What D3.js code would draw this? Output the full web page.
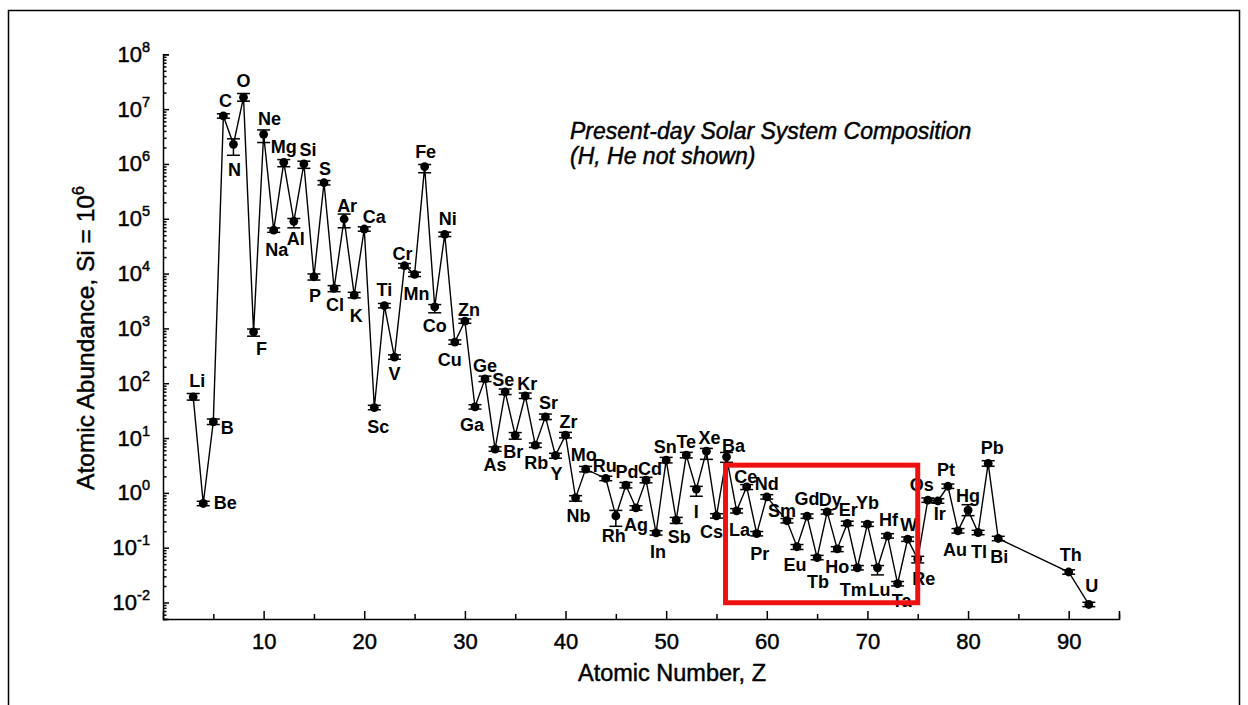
<!DOCTYPE html>
<html>
<head>
<meta charset="utf-8">
<script src="https://cdn.jsdelivr.net/npm/d3@7"></script>
<style>
  html, body { margin: 0; padding: 0; background: #fff; }
  svg { display: block; font-family: "Liberation Sans", Arial, sans-serif; }
  .heavy { stroke: #000; stroke-width: 0.45px; paint-order: stroke; }
</style>
</head>
<body>
<svg id="chart" width="1248" height="705"></svg>
<script>
// Present-day solar system abundances (atoms per 10^6 Si atoms)
const elements = ["Li","Be","B","C","N","O","F","Ne","Na","Mg","Al","Si","P","S","Cl","Ar","K","Ca","Sc","Ti",
  "V","Cr","Mn","Fe","Co","Ni","Cu","Zn","Ga","Ge","As","Se","Br","Kr","Rb","Sr","Y","Zr","Nb","Mo",
  "Ru","Rh","Pd","Ag","Cd","In","Sn","Sb","Te","I","Xe","Cs","Ba","La","Ce","Pr","Nd",
  "Sm","Eu","Gd","Tb","Dy","Ho","Er","Tm","Yb","Lu","Hf","Ta","W","Re","Os","Ir","Pt","Au","Hg","Tl",
  "Pb","Bi","Th","U"];
const atomicNumbers = [3,4,5,6,7,8,9,10,11,12,13,14,15,16,17,18,19,20,21,22,
  23,24,25,26,27,28,29,30,31,32,33,34,35,36,37,38,39,40,41,42,
  44,45,46,47,48,49,50,51,52,53,54,55,56,57,58,59,60,
  62,63,64,65,66,67,68,69,70,71,72,73,74,75,76,77,78,79,80,81,
  82,83,90,92];
const abundances = [56.5,0.64,19.8,7.5e6,2.28e6,1.64e7,867,3.47e6,6.2e4,1.07e6,9.0e4,1.0e6,8750,4.54e5,5370,9.9e4,4050,6.5e4,36,2600,
  300,1.39e4,9670,8.9e5,2480,5.19e4,562,1358,37,120,6.3,69.7,11.2,59,7.4,24.4,4.8,11.3,0.81,2.71,
  1.83,0.38,1.38,0.53,1.71,0.186,3.95,0.318,4.88,1.17,5.77,0.38,4.54,0.47,1.29,0.18,0.845,
  0.31,0.104,0.376,0.066,0.45,0.095,0.277,0.043,0.268,0.043,0.164,0.022,0.143,0.062,0.736,0.71,1.32,0.203,0.483,0.189,
  3.44,0.147,0.036,0.0092];
// Uncertainties in dex (log10 units), above and below each value
const errorUp = [0.06,0.04,0.05,0.04,0.10,0.07,0.05,0.08,0.04,0.05,0.05,0.05,0.05,0.04,0.05,0.09,0.05,0.04,0.04,0.04,
  0.04,0.04,0.04,0.04,0.04,0.04,0.04,0.04,0.04,0.05,0.04,0.05,0.05,0.05,0.04,0.05,0.04,0.05,0.04,0.05,
  0.04,0.10,0.05,0.04,0.05,0.04,0.05,0.05,0.05,0.05,0.05,0.04,0.08,0.04,0.04,0.04,0.04,
  0.04,0.04,0.04,0.04,0.04,0.04,0.04,0.04,0.04,0.04,0.04,0.04,0.04,0.05,0.04,0.04,0.04,0.04,0.10,0.04,
  0.05,0.04,0.04,0.04];
const errorDown = [0.06,0.04,0.05,0.04,0.20,0.07,0.08,0.15,0.04,0.08,0.12,0.08,0.06,0.04,0.06,0.16,0.05,0.04,0.04,0.04,
  0.04,0.04,0.04,0.11,0.11,0.04,0.04,0.04,0.04,0.05,0.04,0.05,0.07,0.05,0.04,0.05,0.05,0.05,0.06,0.05,
  0.04,0.19,0.05,0.04,0.05,0.04,0.05,0.06,0.05,0.13,0.15,0.04,0.10,0.04,0.05,0.04,0.04,
  0.04,0.05,0.04,0.04,0.04,0.05,0.04,0.04,0.04,0.13,0.04,0.04,0.04,0.07,0.04,0.04,0.04,0.04,0.10,0.04,
  0.05,0.04,0.04,0.04];
const xTickValues = [10,20,30,40,50,60,70,80,90];
const yTickExponents = [-2,-1,0,1,2,3,4,5,6,7,8];
const titleLines = ["Present-day Solar System Composition", "(H, He not shown)"];
// Highlighted lanthanide region: Z range and abundance range
const highlightZ = [55.9, 75.0];
const highlightAbundance = [0.0099, 3.2];

// Label placement (offset of label centre from its point, in px)
const labelOffset = {
  Li:[4,-16], Be:[22,0], B:[14,6], C:[2,-15], N:[1,26], O:[0,-16], F:[8,17], Ne:[6,-15], Na:[3,20],
  Mg:[0,-15], Al:[2,18], Si:[4,-14], P:[1,19], S:[1,-14], Cl:[1,17], Ar:[3,-13], K:[2,21], Ca:[10,-12],
  Sc:[4,19], Ti:[0,-16], V:[0,17], Cr:[-2,-12], Mn:[2,20], Fe:[1,-15], Co:[0,19], Ni:[3,-15], Cu:[-5,18],
  Zn:[4,-11], Ga:[-3,18], Ge:[0,-13], As:[0,16], Se:[-2,-12], Br:[-2,17], Kr:[2,-12], Rb:[1,18], Sr:[3,-14],
  Y:[1,18], Zr:[3,-13], Nb:[3,18], Mo:[-2,-14], Ru:[-1,-12], Rh:[-2,20], Pd:[1,-13], Ag:[0,17], Cd:[4,-11],
  In:[2,19], Sn:[-1,-13], Sb:[3,17], Te:[0,-13], I:[0,23], Xe:[3,-13], Cs:[-5,16], Ba:[7,-11], La:[3,19],
  Ce:[-1,-10], Pr:[3,20], Nd:[0,-13], Sm:[-5,-10], Eu:[-2,18], Gd:[0,-17], Tb:[1,24], Dy:[3,-12], Ho:[0,18],
  Er:[1,-13], Tm:[-4,22], Yb:[0,-21], Lu:[2,22], Hf:[1,-16], Ta:[4,17], W:[1,-14], Re:[6,20], Os:[-6,-15],
  Ir:[2,13], Pt:[-2,-16], Au:[-3,19], Hg:[0,-14], Tl:[1,19], Pb:[4,-15], Bi:[1,18], Th:[2,-17], U:[3,-18]
};

const data = elements.map((el, i) => ({
  el, z: atomicNumbers[i], v: abundances[i], up: errorUp[i], down: errorDown[i]
}));

const svg = d3.select("#chart");
svg.append("rect").attr("width", 1248).attr("height", 705).attr("fill", "#fff");

// outer frame
svg.append("path")
  .attr("d", "M8.5,705 V10.5 H1239.5 V705")
  .attr("fill", "none").attr("stroke", "#000").attr("stroke-width", 1.5);

const x = d3.scaleLinear().domain([0, 95]).range([163, 1119]);
const y = d3.scaleLog().domain([0.005, 1e8]).range([619, 54.3]);

const axisColor = "#000";

// x axis (ticks pointing inward)
const xAxisG = svg.append("g").attr("transform", `translate(0,${y.range()[0]})`);
xAxisG.call(d3.axisBottom(x).tickValues(xTickValues).tickSize(-8).tickPadding(14).tickFormat(d3.format("d")));
xAxisG.selectAll(".tick text").attr("font-size", 22).attr("font-family", "Liberation Sans, Arial, sans-serif")
  .attr("dy", "0.71em").attr("class", "heavy");
svg.append("g").attr("transform", `translate(0,${y.range()[0]})`)
  .call(d3.axisBottom(x).tickValues(xTickValues.map(d => d - 5).concat([95])).tickSize(-5).tickFormat(""))
  .call(g => g.select(".domain").remove());

// y axis major ticks
const yAxisG = svg.append("g").attr("transform", `translate(${x.range()[0]},0)`);
yAxisG.call(d3.axisLeft(y).tickValues(yTickExponents.map(e => Math.pow(10, e))).tickSize(-6).tickPadding(12).tickFormat(""));
// y axis minor ticks
const minor = [];
for (let e = -3; e < 8; e++) for (let m = 2; m <= 9; m++) {
  const v = m * Math.pow(10, e);
  if (v >= y.domain()[0] && v <= y.domain()[1]) minor.push(v);
}
svg.append("g").attr("transform", `translate(${x.range()[0]},0)`)
  .call(d3.axisLeft(y).tickValues(minor).tickSize(-3.5).tickFormat(""))
  .call(g => g.select(".domain").remove());
svg.selectAll(".domain, .tick line").attr("stroke", axisColor).attr("stroke-width", 1.5);

// y tick labels as 10^n
yTickExponents.forEach(e => {
  const t = svg.append("text").attr("class", "heavy")
    .attr("x", 150).attr("y", y(Math.pow(10, e)) + 7.5)
    .attr("text-anchor", "end").attr("font-size", 22).attr("fill", "#000");
  t.append("tspan").text("10");
  t.append("tspan").attr("dy", -10).attr("font-size", 14.5).text(e);
});

// axis titles
svg.append("text").attr("class", "heavy").attr("x", 672).attr("y", 681).attr("text-anchor", "middle")
  .attr("font-size", 23.5).text("Atomic Number, Z");
const yTitle = svg.append("text").attr("class", "heavy")
  .attr("transform", `translate(94,338) rotate(-90)`)
  .attr("text-anchor", "middle").attr("font-size", 24.5);
yTitle.append("tspan").text("Atomic Abundance, Si = 10");
yTitle.append("tspan").attr("dy", -10).attr("font-size", 16).text("6");

// chart annotation
titleLines.forEach((line, i) => {
  svg.append("text").attr("class", "heavy").attr("x", 570).attr("y", 139 + i * 24.5)
    .attr("font-size", 23).attr("font-style", "italic").text(line);
});

// abundance curve
const line = d3.line().x(d => x(d.z)).y(d => y(d.v));
svg.append("path").datum(data).attr("d", line)
  .attr("fill", "none").attr("stroke", "#000").attr("stroke-width", 1.4);

// error bars
const eb = svg.append("g").attr("stroke", "#000").attr("stroke-width", 1.5);
data.forEach(d => {
  const cx = x(d.z);
  const yTop = y(d.v * Math.pow(10, d.up));
  const yBot = y(d.v / Math.pow(10, d.down));
  eb.append("line").attr("x1", cx).attr("x2", cx).attr("y1", yTop).attr("y2", yBot);
  eb.append("line").attr("x1", cx - 6.5).attr("x2", cx + 6.5).attr("y1", yTop).attr("y2", yTop);
  eb.append("line").attr("x1", cx - 6.5).attr("x2", cx + 6.5).attr("y1", yBot).attr("y2", yBot);
});

// points
svg.append("g").selectAll("circle").data(data).join("circle")
  .attr("cx", d => x(d.z)).attr("cy", d => y(d.v)).attr("r", 4.4).attr("fill", "#000");

// element labels
svg.append("g").selectAll("text").data(data).join("text")
  .attr("x", d => x(d.z) + labelOffset[d.el][0])
  .attr("y", d => y(d.v) + labelOffset[d.el][1])
  .attr("text-anchor", "middle").attr("dominant-baseline", "central")
  .attr("font-size", 18).attr("font-weight", "bold").attr("fill", "#000")
  .text(d => d.el);

// highlight box around the lanthanides
svg.append("rect")
  .attr("x", x(highlightZ[0])).attr("y", y(highlightAbundance[1]))
  .attr("width", x(highlightZ[1]) - x(highlightZ[0]))
  .attr("height", y(highlightAbundance[0]) - y(highlightAbundance[1]))
  .attr("fill", "none").attr("stroke", "#ee1111").attr("stroke-width", 5);
</script>
</body>
</html>
